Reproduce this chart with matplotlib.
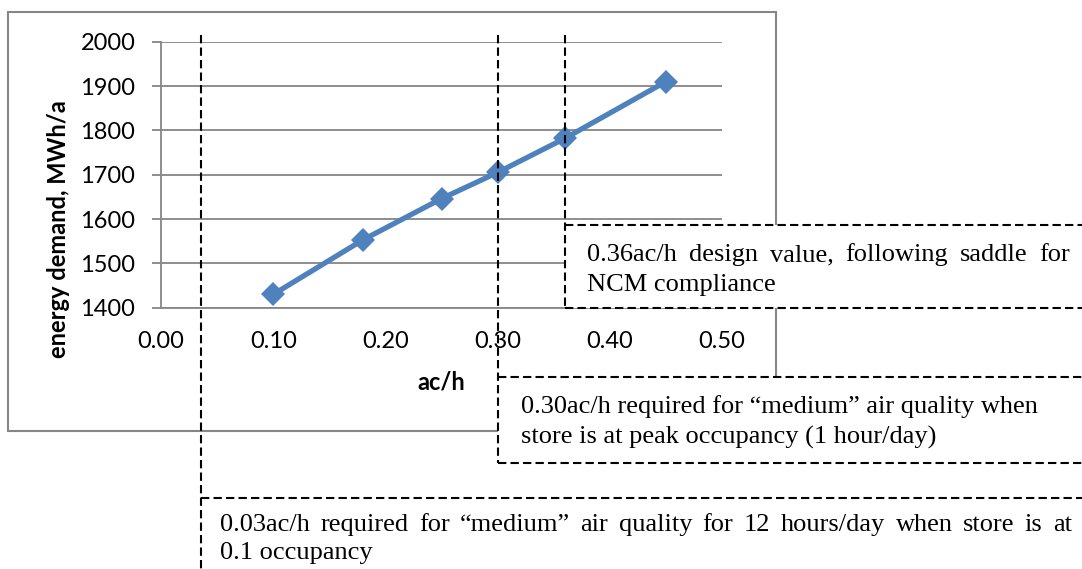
import numpy as np
import matplotlib.pyplot as plt
from matplotlib.patches import Rectangle
from matplotlib.transforms import blended_transform_factory

# data
ach = [0.10, 0.18, 0.25, 0.30, 0.36, 0.45]
demand = [1430, 1553, 1646, 1705, 1782, 1910]
xticks = [0.0, 0.1, 0.2, 0.3, 0.4, 0.5]
yticks = [1400, 1500, 1600, 1700, 1800, 1900, 2000]

# guide lines (ac/h) with their note boxes
guide_x = [0.36, 0.30, 0.036]
note_lines = [
    ["0.36ac/h design value, following saddle for", "NCM compliance"],
    ["0.30ac/h required for \u201cmedium\u201d air quality when",
     "store is at peak occupancy (1 hour/day)"],
    ["0.03ac/h required for \u201cmedium\u201d air quality for 12 hours/day when store is at",
     "0.1 occupancy"],
]
justify_first = [True, False, True]

W, H = 1082, 569
fig = plt.figure(figsize=(W / 100, H / 100), dpi=100)
plt.rcParams['font.family'] = ['Lato', 'DejaVu Sans']

blue = '#4F81BD'
gray = '#868686'

ax = fig.add_axes([161 / W, 1 - 307.7 / H, 561 / W, 266 / H])
ax.plot(ach, demand, color=blue, lw=3.8, marker='D', ms=12, mew=0, zorder=3)
ax.set_xlim(0, 0.5)
ax.set_ylim(1400, 2000)
ax.set_xticks(xticks)
ax.set_xticklabels(['%.2f' % v for v in xticks])
ax.set_yticks(yticks)
ax.yaxis.grid(True, color=gray, lw=1.3)
ax.set_axisbelow(True)
for s in ['top', 'right']:
    ax.spines[s].set_visible(False)
for s in ['left', 'bottom']:
    ax.spines[s].set_color(gray)
    ax.spines[s].set_linewidth(1.3)
ax.tick_params(axis='x', length=0, pad=17, labelsize=17)
ax.tick_params(axis='y', length=6.5, width=1.3, color=gray, pad=12, labelsize=17)
ax.set_xlabel('ac/h', fontweight='bold', fontsize=17)
ax.xaxis.set_label_coords(0.5, -0.235)
ax.set_ylabel('energy demand, MWh/a', fontweight='bold', fontsize=17)
ax.yaxis.set_label_coords(-0.162, 0.296)

# overlay in pixel units for the border, guides and notes
ov = fig.add_axes([0, 0, 1, 1], zorder=5)
ov.set_xlim(0, W)
ov.set_ylim(H, 0)
ov.axis('off')

ov.add_patch(Rectangle((8, 12), 768, 419, fill=False, ec=gray, lw=1.5, zorder=1))

dash = (0, (4, 2))
mix = blended_transform_factory(ax.transData, ov.transData)
renderer = fig.canvas.get_renderer()

box_top = [225, 377, 498]
box_bot = [308, 463, 620]
text_x = [587, 521, 220]
text_y = [[255, 285], [407, 437], [525, 553]]
just_end = [1070, 1070, 1072]

for g, lines, jf, top, bot, tx, ty, xe in zip(guide_x, note_lines, justify_first,
                                             box_top, box_bot, text_x, text_y, just_end):
    px = ax.transData.transform((g, 1400))[0]
    ov.add_patch(Rectangle((px, top), W + 20 - px, bot - top, fc='white', ec='none', zorder=3))
    ov.plot([px, W + 10], [top, top], color='black', lw=1.5, ls=dash, zorder=4, clip_on=False)
    ov.plot([px, W + 10], [bot, bot], color='black', lw=1.5, ls=dash, zorder=4, clip_on=False)
    ov.plot([g, g], [35, min(bot, H)], color='black', lw=1.5, ls=dash, zorder=4,
            transform=mix, clip_on=False)
    for i, (line, y) in enumerate(zip(lines, ty)):
        if i == 0 and jf:
            words = line.split()
            ts = [ov.text(0, y, w, family='Liberation Serif', fontsize=19, va='center',
                          ha='left', zorder=5) for w in words]
            ws = [t.get_window_extent(renderer).width for t in ts]
            gap = (xe - tx - sum(ws)) / (len(words) - 1)
            x = tx
            for t, w in zip(ts, ws):
                t.set_x(x)
                x += w + gap
        else:
            ov.text(tx, y, line, family='Liberation Serif', fontsize=19, va='center',
                    ha='left', zorder=5)

fig.savefig('out.png', dpi=100)
